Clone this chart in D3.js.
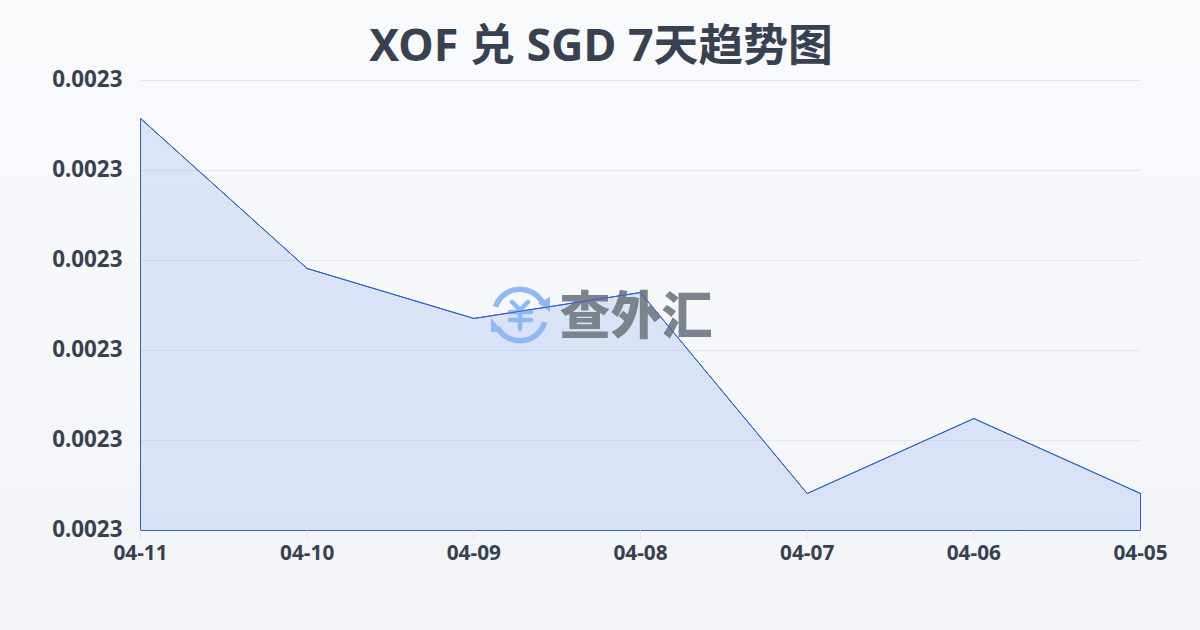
<!DOCTYPE html>
<html>
<head>
<meta charset="utf-8">
<script src="https://cdn.jsdelivr.net/npm/d3@7"></script>
<style>
html, body { margin: 0; padding: 0; background: #f5f6f9; }
svg { display: block; }
text { font-family: "Noto Sans", "Noto Sans CJK SC", sans-serif; }
</style>
</head>
<body>
<script>
var width = 1200;
var height = 630;

var dates = ["04-11", "04-10", "04-09", "04-08", "04-07", "04-06", "04-05"];
var rates = [0.00232578, 0.00230911, 0.00230356, 0.00230644, 0.00228411, 0.00229244, 0.00228411];
var rateTicks = [0.00228, 0.00229, 0.0023, 0.00231, 0.00232, 0.00233];
var titleText = "XOF 兑 SGD 7天趋势图";
var brandText = "查外汇";

var margin = {top: 80, right: 59.5, bottom: 100, left: 140.5};

var x = d3.scalePoint().domain(dates).range([margin.left, width - margin.right]);
var y = d3.scaleLinear().domain([0.00228, 0.00233]).range([height - margin.bottom + 0.5, margin.top + 0.5]);

var svg = d3.select("body")
	.append("svg")
	.attr("width", width)
	.attr("height", height);

var defs = svg.append("defs");

var bg = defs.append("linearGradient").attr("id", "bg").attr("x1", 0).attr("y1", 0).attr("x2", 0).attr("y2", 1);
bg.append("stop").attr("offset", "0%").attr("stop-color", "#f9fafc");
bg.append("stop").attr("offset", "100%").attr("stop-color", "#f3f4f7");

var areaFill = defs.append("linearGradient").attr("id", "areaFill").attr("x1", 0).attr("y1", 0).attr("x2", 0).attr("y2", 1);
areaFill.append("stop").attr("offset", "0%").attr("stop-color", "#2f74de");
areaFill.append("stop").attr("offset", "100%").attr("stop-color", "#3a6ee6");

svg.append("rect").attr("width", width).attr("height", height).attr("fill", "url(#bg)");

svg.append("text")
	.attr("x", 601)
	.attr("y", 61)
	.attr("text-anchor", "middle")
	.attr("font-size", 44.8)
	.attr("font-weight", 700)
	.attr("fill", "#374151")
	.text(titleText);

// grid lines and left labels
var yAxis = d3.axisLeft(y)
	.tickValues(rateTicks)
	.tickFormat(d3.format(".4f"))
	.tickSize(-(width - margin.left - margin.right))
	.tickPadding(18)
	.offset(0);

var gy = svg.append("g")
	.attr("transform", "translate(" + margin.left + ",0)")
	.call(yAxis);
gy.select(".domain").remove();
gy.selectAll(".tick line").attr("stroke", "#e5e7eb").attr("stroke-width", 1);
gy.selectAll(".tick text")
	.attr("font-size", 22.4)
	.attr("font-weight", 700)
	.attr("fill", "#374151")
	.attr("dy", "0.27em");

var area = d3.area()
	.x(function(d, i) { return x(dates[i]); })
	.y0(y(0.00228))
	.y1(function(d) { return y(d); });

svg.append("path")
	.datum(rates)
	.attr("d", area)
	.attr("fill", "url(#areaFill)")
	.attr("fill-opacity", 0.15)
	.attr("stroke", "#2d62c8")
	.attr("stroke-width", 1);

var xAxis = d3.axisBottom(x).tickSize(10).tickPadding(5).offset(0);

var gx = svg.append("g")
	.attr("transform", "translate(0," + y(0.00228) + ")")
	.call(xAxis);
gx.select(".domain").remove();
gx.selectAll(".tick line").attr("stroke", "#e5e7eb");
gx.selectAll(".tick text")
	.attr("font-size", 20.8)
	.attr("font-weight", 700)
	.attr("fill", "#374151");

// watermark
var mark = svg.append("g").attr("transform", "translate(520,315)");
var logoBlue = "#8fb8f6";
var ring = d3.arc().innerRadius(23).outerRadius(28.5);

mark.append("path").attr("d", ring({startAngle: -1.25, endAngle: 1.05})).attr("fill", logoBlue);
mark.append("path").attr("d", ring({startAngle: 1.85, endAngle: 4.2})).attr("fill", logoBlue);
mark.append("path").attr("d", "M30,-18 L18,-12 L30,-3 Z").attr("fill", logoBlue);
mark.append("path").attr("d", "M-29,3 L-17,17 L-29,17 Z").attr("fill", logoBlue);
mark.append("path")
	.attr("d", "M-8,-13 L0,-5 L8,-13 M-10,-3 H11 M-10,5 H11 M0,-5 V14")
	.attr("fill", "none")
	.attr("stroke", logoBlue)
	.attr("stroke-width", 4.5)
	.attr("stroke-linecap", "round");

svg.append("text")
	.attr("x", 636)
	.attr("y", 334)
	.attr("text-anchor", "middle")
	.attr("font-size", 51)
	.attr("font-weight", 900)
	.attr("fill", "#7d838d")
	.style("font-family", '"Noto Sans CJK SC", sans-serif')
	.text(brandText);

// line sits above the watermark
svg.append("path")
	.datum(rates)
	.attr("d", d3.line()
		.x(function(d, i) { return x(dates[i]); })
		.y(function(d) { return y(d); }))
	.attr("fill", "none")
	.attr("stroke", "#2d62c8")
	.attr("stroke-width", 1);
</script>
</body>
</html>
